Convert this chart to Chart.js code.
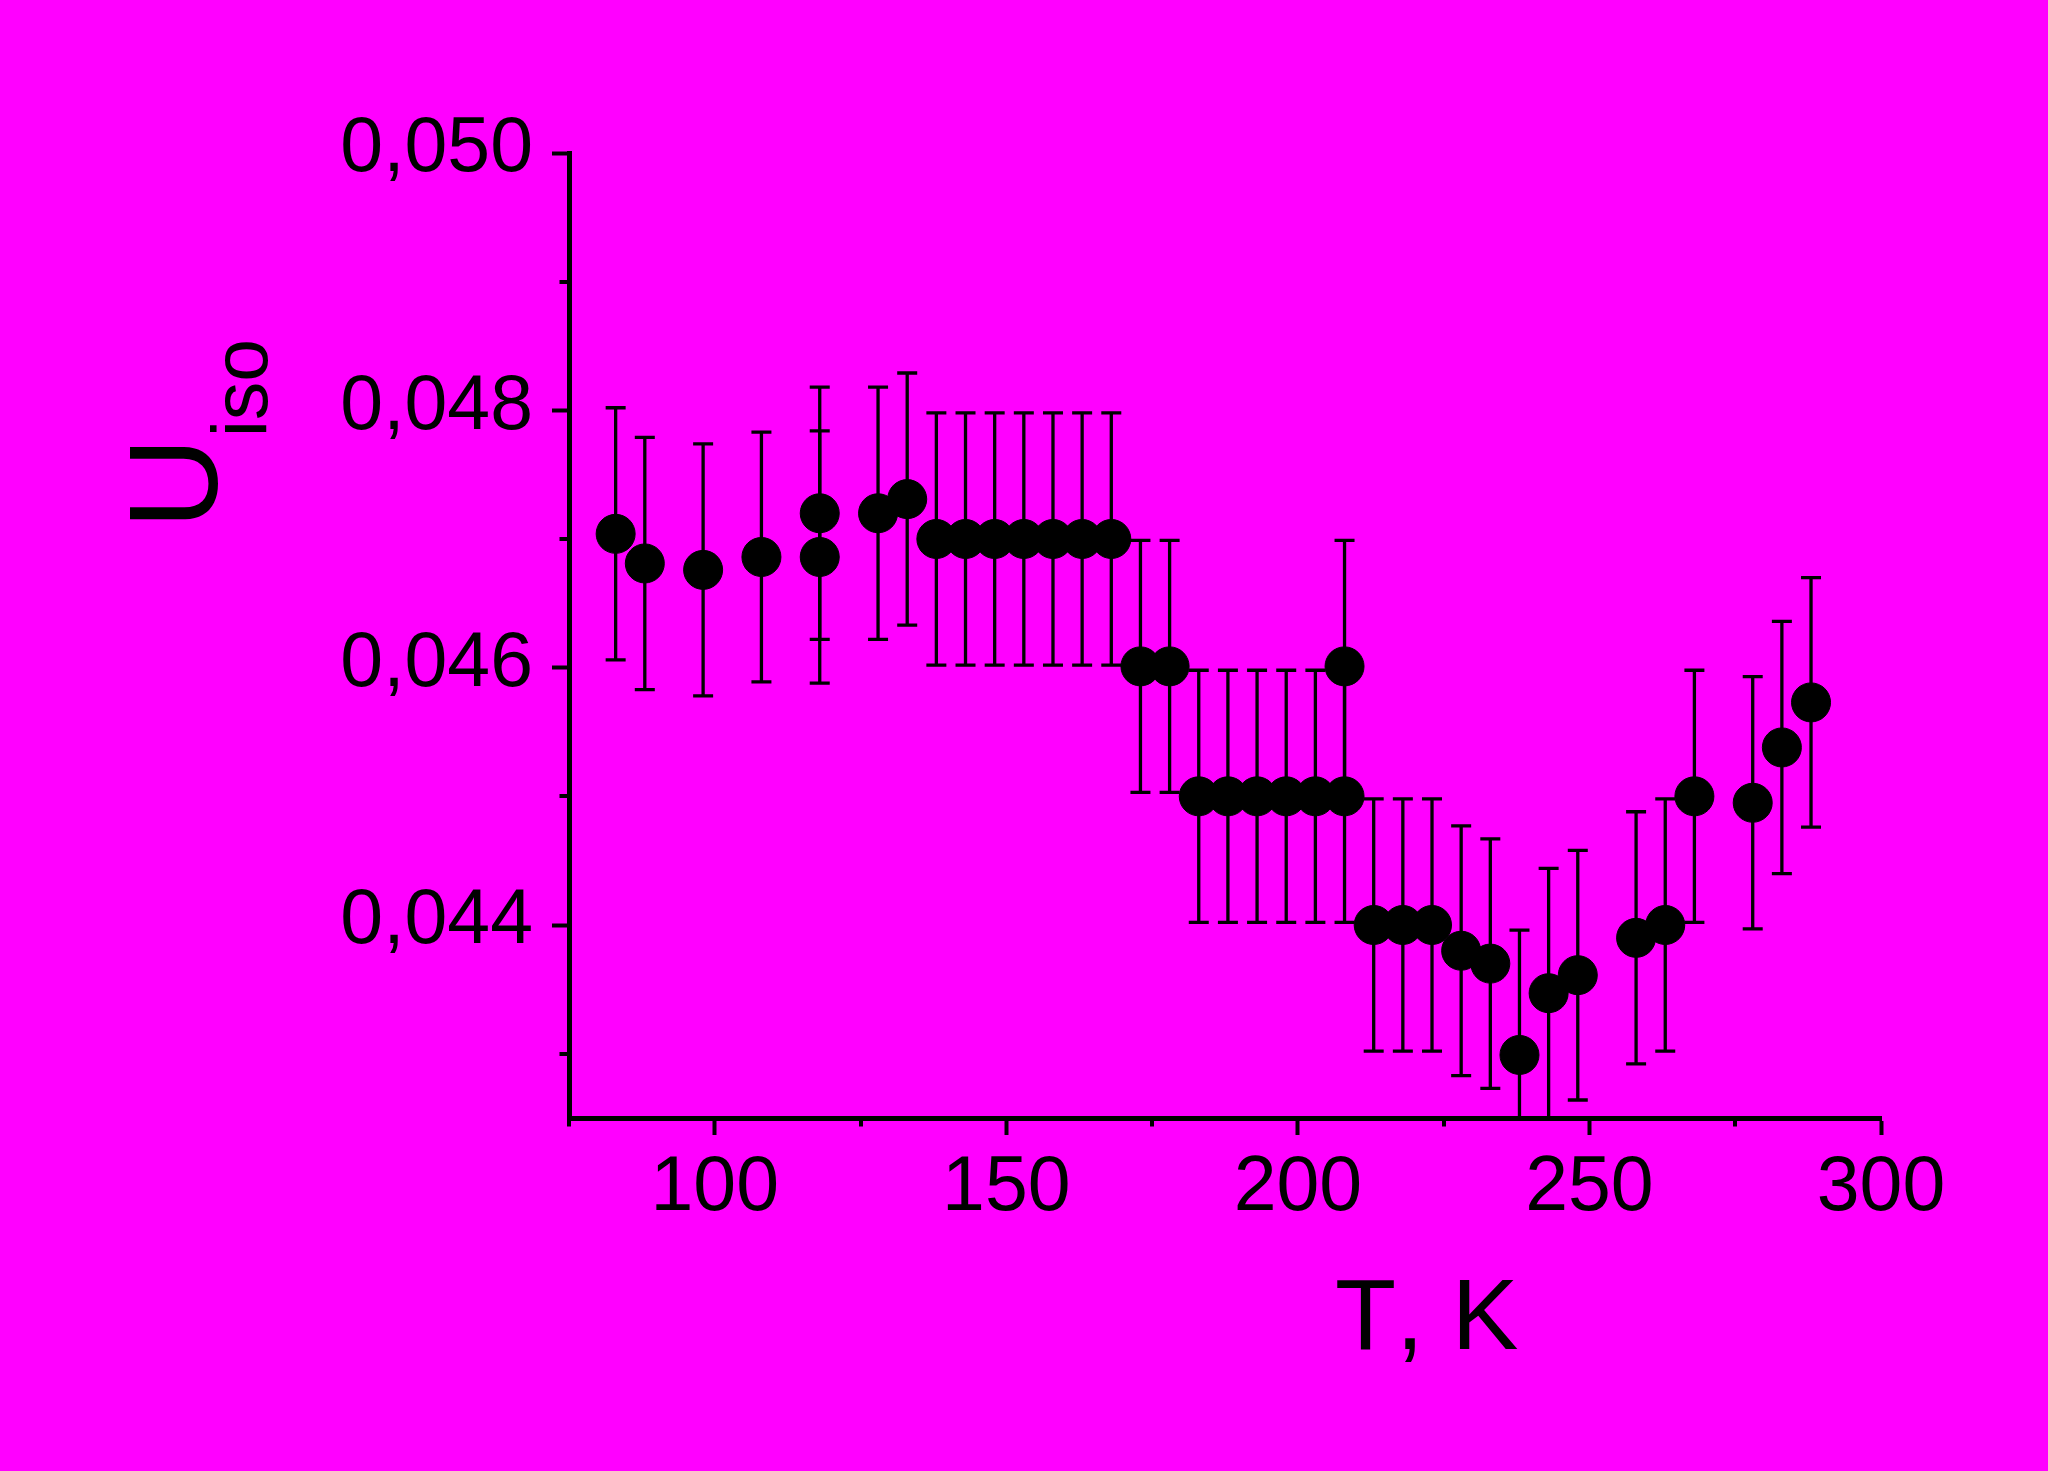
<!DOCTYPE html>
<html>
<head>
<meta charset="utf-8">
<script src="https://cdn.jsdelivr.net/npm/chart.js@4"></script>
<style>
  html, body { margin: 0; padding: 0; background: #FF00FF; }
  canvas { display: block; }
</style>
</head>
<body>
<canvas id="c" width="2048" height="1471"></canvas>
<script>
// ---- data ----
const temperatures = [83, 88, 98, 108, 118, 118, 128, 133, 138, 143, 148, 153, 158, 163, 168, 173, 178, 183, 188, 193, 198, 203, 208, 208, 213, 218, 223, 228, 233, 238, 243, 248, 258, 263, 268, 278, 283, 288];
const uisoValues = [0.04704, 0.04681, 0.04676, 0.04686, 0.04720, 0.04686, 0.04720, 0.04731, 0.04700, 0.04700, 0.04700, 0.04700, 0.04700, 0.04700, 0.04700, 0.04601, 0.04601, 0.04500, 0.04500, 0.04500, 0.04500, 0.04500, 0.04500, 0.04601, 0.04400, 0.04400, 0.04400, 0.04380, 0.04370, 0.04299, 0.04347, 0.04361, 0.04390, 0.04400, 0.04500, 0.04495, 0.04538, 0.04573];
const uisoErrors = [0.00098, 0.00098, 0.00098, 0.00097, 0.00098, 0.00098, 0.00098, 0.00098, 0.00098, 0.00098, 0.00098, 0.00098, 0.00098, 0.00098, 0.00098, 0.00098, 0.00098, 0.00098, 0.00098, 0.00098, 0.00098, 0.00098, 0.00098, 0.00098, 0.00098, 0.00098, 0.00098, 0.00097, 0.00097, 0.00097, 0.00097, 0.00097, 0.00098, 0.00098, 0.00098, 0.00098, 0.00098, 0.00097];
const xMajorTicks = [100, 150, 200, 250, 300];
const xMinorTicks = [75, 125, 175, 225, 275];
const yMajorTicks = [0.044, 0.046, 0.048, 0.050];
const yMinorTicks = [0.043, 0.045, 0.047, 0.049];
const xTitle = 'T, K';
const yTitleMain = 'U';
const yTitleSub = 'iso';

const FONT = '"Liberation Sans", Arial, sans-serif';

const points = temperatures.map((t, i) => ({ x: t, y: uisoValues[i] }));

const bgPlugin = {
  id: 'bg',
  beforeDraw(chart) {
    const ctx = chart.ctx;
    try { ctx.fontKerning = 'none'; } catch (e) {}
    ctx.save();
    ctx.fillStyle = '#FF00FF';
    ctx.fillRect(0, 0, chart.width, chart.height);
    ctx.restore();
  }
};

const errorBarPlugin = {
  id: 'errorBars',
  beforeDatasetsDraw(chart) {
    const ctx = chart.ctx;
    const xs = chart.scales.x, ys = chart.scales.y;
    const a = chart.chartArea;
    ctx.save();
    ctx.beginPath();
    ctx.rect(a.left, a.top, a.right - a.left, a.bottom - a.top);
    ctx.clip();
    ctx.strokeStyle = '#000';
    ctx.lineWidth = 3.3;
    temperatures.forEach((t, i) => {
      const px = xs.getPixelForValue(t);
      const yTop = ys.getPixelForValue(uisoValues[i] + uisoErrors[i]);
      const yBot = ys.getPixelForValue(uisoValues[i] - uisoErrors[i]);
      ctx.beginPath();
      ctx.moveTo(px, yTop); ctx.lineTo(px, yBot);
      ctx.moveTo(px - 10, yTop); ctx.lineTo(px + 10, yTop);
      ctx.moveTo(px - 10, yBot); ctx.lineTo(px + 10, yBot);
      ctx.stroke();
    });
    ctx.restore();
  }
};

const decorPlugin = {
  id: 'decor',
  afterDraw(chart) {
    const ctx = chart.ctx;
    const xs = chart.scales.x, ys = chart.scales.y;
    const a = chart.chartArea;
    ctx.save();
    try { ctx.fontKerning = 'none'; } catch (e) {}
    ctx.strokeStyle = '#000';
    ctx.lineWidth = 4;
    // minor ticks
    yMinorTicks.forEach(v => {
      const py = Math.round(ys.getPixelForValue(v));
      ctx.beginPath();
      ctx.moveTo(a.left - 9.5, py); ctx.lineTo(a.left, py);
      ctx.stroke();
    });
    xMinorTicks.forEach(v => {
      const px = Math.round(xs.getPixelForValue(v));
      ctx.beginPath();
      ctx.moveTo(px, a.bottom); ctx.lineTo(px, a.bottom + 8.5);
      ctx.stroke();
    });
    // axis titles
    ctx.fillStyle = '#000';
    ctx.textBaseline = 'alphabetic';
    ctx.textAlign = 'left';
    ctx.font = '100px ' + FONT;
    ctx.fillText(xTitle, 1335, 1349);
    ctx.translate(217, 529);
    ctx.rotate(-Math.PI / 2);
    ctx.font = '127px ' + FONT;
    ctx.fillText(yTitleMain, 0, 0);
    const w = ctx.measureText(yTitleMain).width;
    ctx.font = '77px ' + FONT;
    ctx.fillText(yTitleSub, w, 50);
    ctx.restore();
  }
};

new Chart(document.getElementById('c'), {
  type: 'scatter',
  data: {
    datasets: [{
      data: points,
      pointRadius: 19.5,
      pointHoverRadius: 19.5,
      backgroundColor: '#000',
      borderColor: '#000',
      borderWidth: 1
    }]
  },
  options: {
    responsive: false,
    animation: false,
    devicePixelRatio: 1,
    layout: { padding: { left: 0, top: 153, right: 167, bottom: 0 } },
    plugins: { legend: { display: false }, tooltip: { enabled: false } },
    scales: {
      x: {
        type: 'linear',
        min: 75, max: 300,
        afterBuildTicks: s => { s.ticks = xMajorTicks.map(v => ({ value: v })); },
        afterFit: s => { s.height = 353; s.paddingLeft = 0; s.paddingRight = 0; },
        border: { display: true, color: '#000', width: 5 },
        grid: { drawOnChartArea: false, drawTicks: true, tickLength: 17, tickWidth: 4, tickColor: '#000', color: '#000' },
        ticks: { color: '#000', font: { family: FONT, size: 77 }, padding: 8, maxRotation: 0, autoSkip: false,
                 callback: v => String(v) }
      },
      y: {
        type: 'linear',
        min: 0.0425, max: 0.050,
        afterBuildTicks: s => { s.ticks = yMajorTicks.map(v => ({ value: v })); },
        afterFit: s => { s.width = 569; s.paddingTop = 0; s.paddingBottom = 0; },
        border: { display: true, color: '#000', width: 5 },
        grid: { drawOnChartArea: false, drawTicks: true, tickLength: 17, tickWidth: 4, tickColor: '#000', color: '#000' },
        ticks: { color: '#000', font: { family: FONT, size: 77 }, padding: 19, labelOffset: -3, autoSkip: false,
                 callback: v => Number(v).toFixed(3).replace('.', ',') }
      }
    }
  },
  plugins: [bgPlugin, errorBarPlugin, decorPlugin]
});
</script>
</body>
</html>
